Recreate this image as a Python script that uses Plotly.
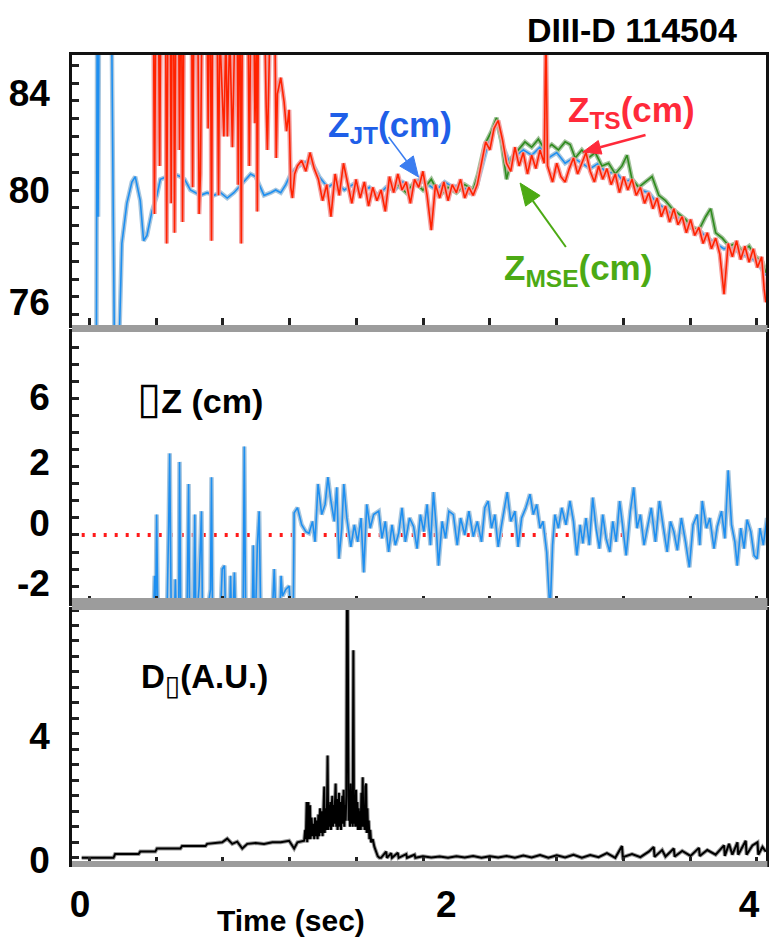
import math
import plotly.graph_objects as go

# ---------------- data ----------------
# Top panel: Z_JT (blue)
t_jt = [0.098, 0.102, 0.108, 0.113, 0.190, 0.196, 0.205, 0.235, 0.250, 0.280,
        0.310, 0.330, 0.360, 0.380, 0.400, 0.430, 0.460, 0.480, 0.520, 0.560,
        0.600, 0.625, 0.660, 0.690, 0.720, 0.760, 0.800, 0.840, 0.880, 0.920,
        0.950, 0.980, 1.020, 1.050, 1.080, 1.100, 1.140, 1.170, 1.200, 1.230,
        1.260, 1.290,
        1.33, 1.38, 1.43, 1.48, 1.53, 1.58, 1.63, 1.68, 1.73, 1.78,
        1.83, 1.88, 1.93, 1.98, 2.03, 2.08, 2.13, 2.18, 2.23, 2.28,
        2.33, 2.37, 2.41, 2.45, 2.49, 2.53, 2.57, 2.61, 2.65, 2.70,
        2.75, 2.80, 2.85, 2.90, 2.95, 3.00, 3.05, 3.10, 3.15, 3.20,
        3.25, 3.30, 3.35, 3.40, 3.45, 3.50, 3.55, 3.60, 3.65, 3.70,
        3.75, 3.80, 3.85, 3.90, 3.95, 4.00, 4.05, 4.10]
z_jt = [74.5, 85.5, 79.0, 85.5, 85.5, 79.5, 74.5, 74.5, 78.0, 79.5,
        80.3, 80.5, 79.6, 78.1, 78.3, 79.2, 79.8, 80.4, 80.5, 80.6,
        80.5, 80.4, 80.0, 79.9, 79.8, 79.9, 79.8, 79.9, 79.7, 79.9,
        80.1, 80.3, 80.6, 80.5, 80.1, 79.8, 79.9, 80.0, 79.9, 80.2,
        80.6, 80.8,
        81.0, 81.1, 80.5, 80.1, 80.3, 80.0, 80.2, 79.9, 80.1, 79.8,
        80.1, 80.0, 80.3, 80.1, 80.4, 80.2, 80.0, 80.3, 80.1, 80.2,
        79.9, 80.1, 81.0, 82.0, 82.6, 81.6, 81.0, 81.3, 81.5, 81.3,
        81.6, 81.2, 81.4, 81.0, 81.2, 81.0, 80.8, 81.0, 80.6, 80.7,
        80.3, 80.4, 80.0, 79.9, 79.5, 79.3, 79.0, 78.9, 78.6, 78.5,
        78.2, 78.0, 77.8, 77.9, 77.6, 77.5, 77.3, 76.8]

# Top panel: Z_MSE (green)
t_mse = [1.90, 1.95, 2.00, 2.05, 2.10, 2.15, 2.20, 2.25, 2.30, 2.35,
         2.38, 2.42, 2.46, 2.49, 2.52, 2.55, 2.58, 2.62, 2.66, 2.70,
         2.74, 2.78, 2.82, 2.86, 2.90, 2.93, 2.96, 3.00, 3.04, 3.08,
         3.12, 3.16, 3.20, 3.24, 3.27, 3.30, 3.34, 3.38, 3.42, 3.46,
         3.50, 3.54, 3.58, 3.62, 3.66, 3.70, 3.74, 3.77, 3.80, 3.84,
         3.88, 3.92, 3.96, 4.00, 4.04, 4.08, 4.10]
z_mse = [80.2, 79.9, 80.3, 80.0, 80.4, 79.8, 80.1, 79.9, 80.2, 80.0,
         80.6, 81.7, 82.2, 82.7, 81.8, 80.4, 81.2, 81.5, 81.8, 81.6,
         81.9, 81.5, 81.7, 81.5, 81.8, 81.7, 81.2, 81.5, 81.2, 81.4,
         80.9, 81.0, 80.6, 80.9, 81.3, 80.4, 80.1, 80.3, 80.5, 79.8,
         79.6, 79.3, 79.1, 78.9, 78.6, 78.5, 79.0, 79.3, 78.4, 78.2,
         77.9, 78.0, 77.7, 77.9, 77.5, 77.3, 76.9]

# Top panel: Z_TS (red)
t_ts = [0.440, 0.445, 0.452, 0.470, 0.476, 0.482, 0.512, 0.518, 0.525, 0.540,
        0.545, 0.550, 0.560, 0.565, 0.572, 0.590, 0.595, 0.600, 0.608, 0.613,
        0.620, 0.668, 0.673, 0.680, 0.705, 0.712, 0.720, 0.728, 0.760, 0.766,
        0.772, 0.780, 0.786, 0.792, 0.820, 0.828, 0.835, 0.851, 0.860, 0.872,
        0.881, 0.895, 0.911, 0.925, 0.940, 0.946, 0.952, 0.958, 0.964, 0.970,
        1.005, 1.012, 1.020, 1.040, 1.046, 1.055, 1.060, 1.066, 1.105, 1.113,
        1.120, 1.135, 1.165, 1.173, 1.180, 1.200, 1.220, 1.235, 1.250, 1.260,
        1.270, 1.283,
        1.300, 1.325, 1.350, 1.375, 1.400, 1.425, 1.450, 1.475, 1.500, 1.525,
        1.550, 1.575, 1.600, 1.625, 1.650, 1.675, 1.700, 1.725, 1.750, 1.775,
        1.800, 1.825, 1.850, 1.875, 1.900, 1.925, 1.950, 1.975, 2.000, 2.025,
        2.050, 2.075, 2.100, 2.125, 2.150, 2.175, 2.200, 2.225, 2.250, 2.275,
        2.300, 2.325, 2.350, 2.375, 2.400, 2.425, 2.450, 2.475, 2.500, 2.525,
        2.550, 2.575, 2.600, 2.625, 2.650, 2.675, 2.700, 2.725, 2.750, 2.775,
        2.785, 2.795, 2.825, 2.850, 2.875, 2.900, 2.925, 2.950, 2.975, 3.000,
        3.025, 3.050, 3.075, 3.100, 3.125, 3.150, 3.175, 3.200, 3.225, 3.250,
        3.275, 3.300, 3.325, 3.350, 3.375, 3.400, 3.425, 3.450, 3.475, 3.500,
        3.525, 3.550, 3.575, 3.600, 3.625, 3.650, 3.675, 3.700, 3.725, 3.750,
        3.775, 3.800, 3.825, 3.850, 3.875, 3.900, 3.925, 3.950, 3.975, 4.000,
        4.025, 4.050, 4.075, 4.090, 4.100]
z_ts = [86, 79.1, 86, 86, 80.9, 86, 86, 78.0, 86, 86,
        79.5, 86, 86, 78.4, 86, 86, 81.5, 86, 86, 78.8,
        86, 86, 80.1, 86, 86, 79.1, 80.6, 86, 86, 82.3,
        86, 86, 78.1, 86, 86, 79.8, 86, 83.5, 82.0, 86,
        82.0, 86, 81.6, 86, 86, 80.2, 86, 86, 78.0, 86,
        86, 80.9, 86, 86, 82.5, 86, 79.2, 86, 86, 83.1,
        81.5, 86, 86, 81.2, 83.6, 84.2, 83.3, 82.2, 83.0, 80.1,
        79.7, 80.6,
        80.9, 81.1, 80.7, 81.4, 80.8, 80.4, 79.6, 80.2, 79.0, 80.6,
        79.8, 81.0, 80.2, 79.5, 80.4, 79.7, 80.3, 79.4, 80.1, 79.6,
        80.0, 79.2, 80.5, 79.9, 80.6, 80.0, 80.3, 79.5, 80.4, 80.1,
        80.7, 79.8, 78.5, 80.2, 79.7, 80.3, 79.6, 80.2, 79.9, 80.4,
        79.7, 80.1, 79.8, 80.2, 81.0, 81.8, 81.5, 82.3, 82.6, 81.9,
        81.0, 80.7, 81.6, 80.9, 81.4, 80.6, 81.3, 80.8, 81.5, 81.0,
        86.0, 80.9, 80.3, 81.0, 80.5, 80.3, 80.8, 81.2, 80.6, 81.0,
        81.4, 80.7, 80.3, 80.9, 80.4, 80.8, 80.2, 80.6, 79.9, 80.5,
        80.0, 80.4, 79.8, 80.1, 79.5, 79.9, 79.3, 79.7, 79.0, 79.4,
        78.8, 79.3, 78.7, 79.0, 78.4, 78.9, 78.3, 78.6, 78.0, 78.4,
        77.8, 78.2, 77.6, 76.1, 78.0, 77.5, 78.1, 77.4, 77.9, 77.3,
        77.8, 77.1, 77.5, 76.3, 75.8]

# Middle panel: Delta Z (blue) and zero reference
t_dz = [0.440, 0.446, 0.452, 0.458, 0.465, 0.520, 0.530, 0.536, 0.545, 0.565,
        0.570, 0.575, 0.590, 0.595, 0.602, 0.640, 0.649, 0.655, 0.680, 0.686,
        0.692, 0.700, 0.712, 0.726, 0.732, 0.760, 0.780, 0.786, 0.792, 0.840,
        0.850, 0.863, 0.870, 0.895, 0.900, 0.905, 0.915, 0.923, 0.930, 0.975,
        0.982, 0.990, 1.030, 1.036, 1.042, 1.050, 1.060, 1.071, 1.080, 1.150,
        1.161, 1.170, 1.195, 1.202, 1.210, 1.230, 1.250, 1.260, 1.275,
        1.280, 1.300, 1.325, 1.350, 1.369, 1.390, 1.405, 1.423, 1.445, 1.465,
        1.482, 1.500, 1.520, 1.535, 1.548, 1.565, 1.577, 1.595, 1.619, 1.640,
        1.660, 1.680, 1.696, 1.714, 1.735, 1.755, 1.786, 1.805, 1.825, 1.845,
        1.865, 1.885, 1.905, 1.925, 1.945, 1.970, 1.994, 2.015, 2.035, 2.055,
        2.075, 2.095, 2.113, 2.130, 2.143, 2.165, 2.185, 2.205, 2.232, 2.255,
        2.275, 2.300, 2.325, 2.351, 2.375, 2.400, 2.420, 2.440, 2.460, 2.480,
        2.500, 2.520, 2.554, 2.575, 2.600, 2.619, 2.640, 2.665, 2.690, 2.710,
        2.730, 2.750, 2.768, 2.790, 2.810, 2.825, 2.839, 2.860, 2.880, 2.905,
        2.929, 2.950, 2.970, 2.990, 3.006, 3.025, 3.045, 3.065, 3.085, 3.105,
        3.125, 3.145, 3.167, 3.185, 3.205, 3.226, 3.245, 3.265, 3.290, 3.310,
        3.330, 3.350, 3.372, 3.393, 3.415, 3.440, 3.464, 3.485, 3.510, 3.530,
        3.550, 3.571, 3.595, 3.620, 3.643, 3.665, 3.690, 3.705, 3.720, 3.745,
        3.765, 3.790, 3.810, 3.835, 3.855, 3.875, 3.895, 3.915, 3.929, 3.950,
        3.970, 3.988, 4.010, 4.030, 4.048, 4.065, 4.085, 4.107]
v_dz = [-2.3, -1.2, -2.3, 0.6, -2.3, -2.3, 0.3, 2.4, -2.3, -2.3,
        -1.3, -2.3, -2.3, 2.15, -2.3, -2.3, 1.5, -2.3, -2.3, 0.6,
        -2.3, -2.3, -1.5, 0.7, -2.3, -2.3, -1.6, 1.7, -2.3, -2.3,
        -1.0, -0.9, -2.3, -2.3, -1.2, -2.3, -2.3, -1.1, -2.3, -2.3,
        2.6, -2.3, -2.3, -0.3, -2.3, -2.3, -0.3, 0.7, -2.3, -2.3,
        -1.0, -2.3, -2.3, -1.2, -1.8, -1.6, -1.5, -2.3, -2.3,
        0.65, 0.8, 0.3, 0.1, 0.05, 0.4, -0.2, 1.5, 0.6, 0.9,
        1.7, 1.0, 0.4, 1.4, -0.7, 0.2, 1.5, 0.5, -0.35, 0.3,
        -0.2, 0.5, -1.1, 0.9, 0.2, 0.6, 0.7, -0.1, 0.4, -0.5,
        0.3, -0.3, 0.05, 0.8, -0.2, 0.5, 0.25, -0.4, 0.6, 0.1,
        0.9, -0.3, 1.26, 0.2, -0.9, 0.4, -0.1, 0.7, 0.6, -0.3,
        0.5, 0.0, 0.7, -0.05, 0.4, -0.2, 0.8, 1.0, 0.2, 0.6,
        -0.35, 0.3, 1.26, 0.4, 0.7, -0.35, 0.5, 0.8, 1.2, 0.6,
        0.9, 0.2, 0.4, -0.5, -2.3, -0.3, 0.6, 0.2, 0.8, 0.3,
        1.0, 0.4, -0.6, 0.3, -0.25, 0.5, -0.3, 1.1, 0.2, -0.4,
        0.6, -0.1, -0.5, 0.4, -0.2, 1.0, 0.3, -0.6, 0.7, 1.4,
        0.2, 0.6, -0.3, 0.25, 0.8, -0.2, 1.0, 0.3, -0.5, 0.4,
        0.1, -0.45, 0.5, -0.2, -0.95, 0.3, 0.6, -0.3, 1.0, 0.2,
        0.5, -0.4, 0.25, 0.7, -0.1, 1.9, 0.3, -0.2, -0.9, 0.2,
        -0.4, 0.45, 0.1, -0.6, -0.7, 0.2, -0.3, 0.5]
t_zero = [0.01, 3.29]
v_zero = [0.0, 0.0]

# Bottom panel: D-alpha (A.U.) -- L-mode ramp, ELM burst, H-mode
t_da_l = [0.01, 0.20, 0.21, 0.35, 0.36, 0.45, 0.46, 0.60, 0.61, 0.75,
          0.76, 0.85, 0.88, 0.91, 0.94, 0.97, 1.00, 1.05, 1.10, 1.15,
          1.20, 1.25, 1.28, 1.30, 1.34]
v_da_l = [0.0, 0.0, 0.12, 0.12, 0.2, 0.2, 0.3, 0.3, 0.38, 0.38,
          0.45, 0.5, 0.62, 0.45, 0.52, 0.30, 0.45, 0.48, 0.45, 0.5,
          0.5, 0.55, 0.3, 0.5, 0.55]
t_da_elm = [1.346, 1.350, 1.355, 1.358, 1.362, 1.365, 1.368, 1.372, 1.375, 1.378,
            1.384, 1.390, 1.395, 1.400, 1.405, 1.410, 1.415, 1.420, 1.425, 1.430,
            1.435, 1.440, 1.445, 1.450, 1.455, 1.460, 1.463, 1.468, 1.472, 1.476,
            1.480, 1.484, 1.488, 1.492, 1.496, 1.500, 1.504, 1.508, 1.512, 1.516,
            1.520, 1.524, 1.528, 1.532, 1.536, 1.540, 1.544, 1.548, 1.552, 1.556,
            1.560, 1.564, 1.568, 1.572, 1.576, 1.580, 1.584, 1.588, 1.592, 1.596,
            1.600, 1.603, 1.606, 1.610, 1.614, 1.618, 1.622, 1.626, 1.630, 1.634,
            1.638, 1.642, 1.646, 1.650, 1.654, 1.658, 1.662, 1.666, 1.670, 1.674,
            1.678, 1.682, 1.686, 1.690, 1.694, 1.698, 1.702, 1.706, 1.710, 1.714,
            1.718, 1.722, 1.726, 1.730, 1.735, 1.740, 1.750, 1.760, 1.770, 1.780,
            1.790]
v_da_elm = [0.9, 0.6, 1.8, 0.5, 1.1, 1.8, 0.6, 1.0, 1.7, 0.6,
            1.3, 0.7, 1.1, 0.6, 1.3, 0.7, 1.2, 0.6, 1.4, 0.7,
            1.6, 0.8, 1.5, 0.7, 1.9, 2.3, 0.8, 1.6, 0.9, 1.4,
            3.3, 0.9, 1.7, 1.0, 1.8, 0.9, 1.5, 2.0, 1.0, 1.7,
            1.1, 2.2, 2.4, 1.0, 1.9, 0.9, 1.6, 2.1, 1.0, 1.8,
            0.9, 1.6, 2.0, 1.1, 2.2, 1.0, 1.7, 1.2, 2.0, 8.5,
            8.5, 4.4, 1.2, 2.2, 1.0, 2.4, 1.1, 1.8, 1.0, 6.7,
            1.1, 2.0, 1.0, 2.2, 1.0, 1.8, 0.9, 1.6, 0.9, 1.5,
            0.9, 2.1, 1.0, 2.6, 1.0, 1.4, 0.9, 2.3, 2.4, 0.8,
            1.6, 0.8, 1.2, 0.6, 0.9, 0.5, 0.6, 0.35, 0.2, 0.05,
            0.0]
t_da_h = [1.80, 1.83, 1.835, 1.86, 1.865, 1.90, 1.905, 1.95, 1.955, 2.00,
          2.005, 2.05, 2.10, 2.15, 2.20, 2.25, 2.30, 2.35, 2.40, 2.45,
          2.50, 2.55, 2.60, 2.65, 2.70, 2.75, 2.80, 2.85, 2.90, 2.95,
          3.00, 3.05, 3.10, 3.15, 3.20, 3.24, 3.245, 3.30, 3.35, 3.40,
          3.43, 3.435, 3.48, 3.50, 3.55, 3.555, 3.60, 3.65, 3.70, 3.705,
          3.75, 3.80, 3.85, 3.855, 3.88, 3.90, 3.93, 3.935, 3.96, 3.98,
          3.985, 4.02, 4.05, 4.055, 4.08, 4.10]
v_da_h = [0.0, 0.2, 0.0, 0.15, 0.0, 0.16, 0.0, 0.12, 0.0, 0.1,
          0.0, 0.05, 0.01, 0.04, 0.0, 0.05, 0.01, 0.06, 0.0, 0.05,
          0.01, 0.06, 0.0, 0.07, 0.01, 0.09, 0.0, 0.08, 0.01, 0.1,
          0.0, 0.09, 0.02, 0.15, 0.0, 0.38, 0.02, 0.12, 0.02, 0.2,
          0.35, 0.03, 0.25, 0.04, 0.3, 0.04, 0.22, 0.06, 0.32, 0.06,
          0.25, 0.1, 0.4, 0.06, 0.45, 0.1, 0.5, 0.1, 0.35, 0.55,
          0.1, 0.4, 0.5, 0.1, 0.35, 0.2]

# axis labels (positions where the labels sit in the picture)
x_tick_text = ["0", "2", "4"]
x_tick_pos = [0, 2.19, 4]
y1_tick_text = ["84", "80", "76"]
y1_tick_pos = [83.63, 80, 75.81]
y2_tick_text = ["6", "2", "0", "-2"]
y2_tick_pos = [4.06, 2.15, 0.35, -1.41]
y3_tick_text = ["4", "0"]
y3_tick_pos = [3.93, -0.07]

# ---------------- figure ----------------
FONT = "Liberation Sans, Arial, sans-serif"
W, H = 777, 940
ML, MR, MT, MB = 72, 8, 55, 76
PW, PH = W - ML - MR, H - MT - MB


def px(x):
    return (x - ML) / PW


def py(y):
    return (H - MB - y) / PH


fig = go.Figure()


def add_line(x, y, xa, ya, core, halo, cw=1.6, hw=4.5):
    fig.add_trace(go.Scatter(x=x, y=y, xaxis=xa, yaxis=ya, mode="lines",
                             line=dict(color=halo, width=hw), hoverinfo="skip",
                             showlegend=False))
    fig.add_trace(go.Scatter(x=x, y=y, xaxis=xa, yaxis=ya, mode="lines",
                             line=dict(color=core, width=cw), showlegend=False))


BLUE, BLUE_H = "#1e8ff0", "#a8c6de"
RED, RED_H = "#ff2200", "#f3a0a0"
GREEN, GREEN_H = "#2e8b1e", "#a3c29c"

add_line(t_jt, z_jt, "x", "y", BLUE, BLUE_H)
add_line(t_mse, z_mse, "x", "y", GREEN, GREEN_H)
add_line(t_ts, z_ts, "x", "y", RED, RED_H)

fig.add_trace(go.Scatter(x=t_zero, y=v_zero, xaxis="x2", yaxis="y2", mode="lines",
                         line=dict(color="#ff1a1a", width=4, dash="3px,8px"),
                         showlegend=False))
add_line(t_dz, v_dz, "x2", "y2", BLUE, BLUE_H)

t_da = t_da_l + t_da_elm + t_da_h
v_da = v_da_l + v_da_elm + v_da_h
add_line(t_da, v_da, "x3", "y3", "#000000", "#9a9a9a", cw=2.0, hw=4.0)

XR = [-0.048, 4.101]
TICKF = dict(family=FONT, size=37, color="black", weight="bold")
common_x = dict(range=XR, showline=True, mirror=True, linecolor="#111", linewidth=2.5,
                ticks="", showgrid=False, zeroline=False,
                minor=dict(ticks="inside", ticklen=7, tickwidth=2.5, tickcolor="#222",
                           tick0=0.0565, dtick=0.399, showgrid=False))
common_y = dict(showline=True, mirror=True, linecolor="#111", linewidth=2.5,
                ticks="", showgrid=False, zeroline=False, ticklabelstandoff=12,
                tickfont=TICKF)

fig.update_layout(
    width=W, height=H, autosize=False,
    margin=dict(l=ML, r=MR, t=MT, b=MB),
    plot_bgcolor="white", paper_bgcolor="white", showlegend=False,
    xaxis=dict(**common_x, anchor="y", domain=[0, 1], showticklabels=False),
    xaxis2=dict(**common_x, anchor="y2", domain=[0, 1], showticklabels=False, matches="x"),
    xaxis3=dict(**common_x, anchor="y3", domain=[0, 1], matches="x",
                tickmode="array", tickvals=x_tick_pos, ticktext=x_tick_text,
                ticklabelstandoff=6, tickfont=TICKF),
    yaxis=dict(**common_y, anchor="x", domain=[py(325), 1], range=[74.95, 85.05],
               tickmode="array", tickvals=y1_tick_pos, ticktext=y1_tick_text,
               minor=dict(ticks="inside", ticklen=7, tickwidth=2.5, tickcolor="#222",
                          tick0=80, dtick=0.6667)),
    yaxis2=dict(**common_y, anchor="x2", domain=[py(603), py(332)], range=[-2.0, 5.97],
                tickmode="array", tickvals=y2_tick_pos, ticktext=y2_tick_text,
                minor=dict(ticks="inside", ticklen=7, tickwidth=2.5, tickcolor="#222",
                           tick0=0, dtick=0.5)),
    yaxis3=dict(**common_y, anchor="x3", domain=[0, py(610)], range=[-0.2, 8.0],
                tickmode="array", tickvals=y3_tick_pos, ticktext=y3_tick_text,
                minor=dict(ticks="inside", ticklen=7, tickwidth=2.5, tickcolor="#222",
                           tick0=0, dtick=0.5)),
)

# gray bands at panel bottoms
for y0, y1 in [(325, 332), (598, 610), (861, 867)]:
    fig.add_shape(type="rect", xref="paper", yref="paper",
                  x0=0, x1=1.002, y0=py(y1), y1=py(y0),
                  fillcolor="#9c9c9c", line=dict(width=0), layer="above")


def ann(text, x, y, size, color, xanchor="center"):
    fig.add_annotation(text=text, x=px(x), y=py(y), xref="paper", yref="paper",
                       showarrow=False, xanchor=xanchor, yanchor="middle",
                       font=dict(family=FONT, size=size, color=color, weight="bold"))


BOX = '<span style="font-family:DejaVu Sans;font-weight:normal;font-size:44px">▯</span>'
BOX_S = '<span style="font-family:DejaVu Sans;font-weight:normal;font-size:28px">▯</span>'

ann("DIII-D 114504", 742, 30, 34, "black", xanchor="right")
ann("Z<sub>JT</sub>(cm)", 391, 127, 35, "#1f5fe8")
ann("Z<sub>TS</sub>(cm)", 634, 112, 35, "#ff2a3a")
ann("Z<sub>MSE</sub>(cm)", 580, 270, 35, "#4caa14")
ann(BOX + "Z (cm)", 201, 397, 34, "black")
ann("D<sub>" + BOX_S + "</sub>(A.U.)", 205, 680, 33, "black")
ann("Time (sec)", 292, 920, 30, "black")


def arrow(tip, tail, color, lw, hl, hw):
    dx, dy = tip[0] - tail[0], tip[1] - tail[1]
    L = math.hypot(dx, dy)
    ux, uy = dx / L, dy / L
    bx, by = tip[0] - ux * hl, tip[1] - uy * hl
    nx, ny = -uy, ux
    fig.add_shape(type="line", xref="paper", yref="paper",
                  x0=px(tail[0]), y0=py(tail[1]), x1=px(bx), y1=py(by),
                  line=dict(color=color, width=lw))
    p1 = (bx + nx * hw / 2, by + ny * hw / 2)
    p2 = (bx - nx * hw / 2, by - ny * hw / 2)
    path = "M {:.5f},{:.5f} L {:.5f},{:.5f} L {:.5f},{:.5f} Z".format(
        px(tip[0]), py(tip[1]), px(p1[0]), py(p1[1]), px(p2[0]), py(p2[1]))
    fig.add_shape(type="path", xref="paper", yref="paper", path=path,
                  fillcolor=color, line=dict(color=color, width=1))


arrow((420, 177), (390, 137), "#3b7df0", 1.5, 20, 17)
arrow((585, 152), (648, 135), "#ff2a3a", 2.5, 18, 14)
arrow((522, 183), (568, 247), "#4caa14", 2.0, 22, 18)

fig.write_html("out.html")
